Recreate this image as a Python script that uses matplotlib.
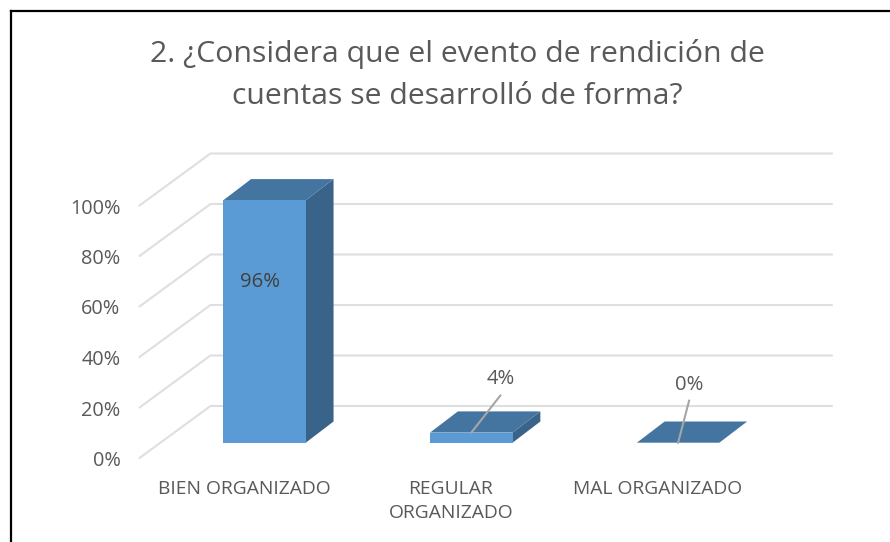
import matplotlib as mpl
mpl.use('Agg')
import matplotlib.pyplot as plt
from matplotlib.lines import Line2D
from matplotlib.patches import Polygon

categories = ['BIEN ORGANIZADO', 'REGULAR\nORGANIZADO', 'MAL ORGANIZADO']
values = [96, 4, 0]
value_labels = ['96%', '4%', '0%']
grid_values = [0, 20, 40, 60, 80, 100]
grid_labels = ['0%', '20%', '40%', '60%', '80%', '100%']
title = '2. ¿Considera que el evento de rendición de\ncuentas se desarrolló de forma?'

W, H = 890, 542
CAT_PX = 206.8    # pixels per category
Y_PX = 2.525      # pixels per percent
X0_PX = 264.5     # first bar centre
Y0_PX = 458       # front edge of the floor

front_col = '#5b9bd5'
top_col = '#4475a1'
side_col = '#396388'
grid_col = '#dfdfdf'
text_col = '#595959'
leader_col = '#a6a6a6'

plt.rcParams['font.family'] = ['Open Sans', 'DejaVu Sans']

fig = plt.figure(figsize=(W / 100, H / 100), dpi=100, facecolor='white')
ax = fig.add_axes([0, 0, 1, 1])
ax.set_xlim(-X0_PX / CAT_PX, (W - X0_PX) / CAT_PX)
ax.set_ylim((Y0_PX - H) / Y_PX, Y0_PX / Y_PX)
ax.axis('off')

# 3d offsets, in data units
wall_dx = 71 / CAT_PX
wall_dy = 52 / Y_PX
left_x = (139.5 - X0_PX) / CAT_PX
right_x = (832 - X0_PX) / CAT_PX
floor_y = 15.3 / Y_PX
bar_w = 82.5 / CAT_PX
depth_dx = 27.8 / CAT_PX
depth_dy = 21.2 / Y_PX

# gridlines along side wall and back wall
for v, lab in zip(grid_values, grid_labels):
    ax.plot([left_x, left_x + wall_dx, right_x], [v, v + wall_dy, v + wall_dy],
            color=grid_col, lw=1.5, zorder=1, solid_capstyle='round')
    ax.text(left_x - 19 / CAT_PX, v - 3 / Y_PX, lab, ha='right', va='center',
            fontsize=14.3, color=text_col)

for i, (cat, val) in enumerate(zip(categories, values)):
    x0 = i - bar_w / 2
    x1 = i + bar_w / 2
    y0 = floor_y
    y1 = floor_y + val
    # side, top, front
    ax.add_patch(Polygon([(x1, y0), (x1 + depth_dx, y0 + depth_dy),
                          (x1 + depth_dx, y1 + depth_dy), (x1, y1)],
                         fc=side_col, ec='none', zorder=3))
    ax.add_patch(Polygon([(x0, y1), (x1, y1), (x1 + depth_dx, y1 + depth_dy),
                          (x0 + depth_dx, y1 + depth_dy)],
                         fc=top_col, ec='none', zorder=3))
    ax.add_patch(Polygon([(x0, y0), (x1, y0), (x1, y1), (x0, y1)],
                         fc=front_col, ec='none', zorder=3))
    ax.text(i - 20.5 / CAT_PX, -8.8, cat, ha='center', va='top', fontsize=13.9,
            color=text_col, linespacing=1.43, zorder=5)

# data labels: the first sits on the bar, the small ones use leader lines
ax.text(0 - 4.5 / CAT_PX, floor_y + values[0] * 0.663, value_labels[0], ha='center',
        va='center', fontsize=14.6, color='#404040', zorder=5)

ax.plot([1, 1 + 29 / CAT_PX], [floor_y + values[1], floor_y + values[1] + 37 / Y_PX],
        color=leader_col, lw=1.5, zorder=4)
ax.text(1 + 29.5 / CAT_PX, floor_y + values[1] + 54 / Y_PX, value_labels[1], ha='center',
        va='center', fontsize=14.6, color=text_col, zorder=5)

ax.plot([2, 2 + 11 / CAT_PX], [floor_y + values[2], floor_y + values[2] + 42 / Y_PX],
        color=leader_col, lw=1.5, zorder=4)
ax.text(2 + 11 / CAT_PX, floor_y + values[2] + 57.5 / Y_PX, value_labels[2], ha='center',
        va='center', fontsize=14.6, color=text_col, zorder=5)

fig.text(457 / W, 1 - 75 / H, title, ha='center', va='center', fontsize=21.8,
         color=text_col, linespacing=1.55)

# chart frame, cut off by the right and bottom of the picture
fig.add_artist(Line2D([10.5 / W, 1], [1 - 11 / H, 1 - 11 / H], color='black', lw=1.6))
fig.add_artist(Line2D([10.5 / W, 10.5 / W], [0, 1 - 11 / H], color='black', lw=1.6))

fig.savefig('out.png', dpi=100)
plt.close()
